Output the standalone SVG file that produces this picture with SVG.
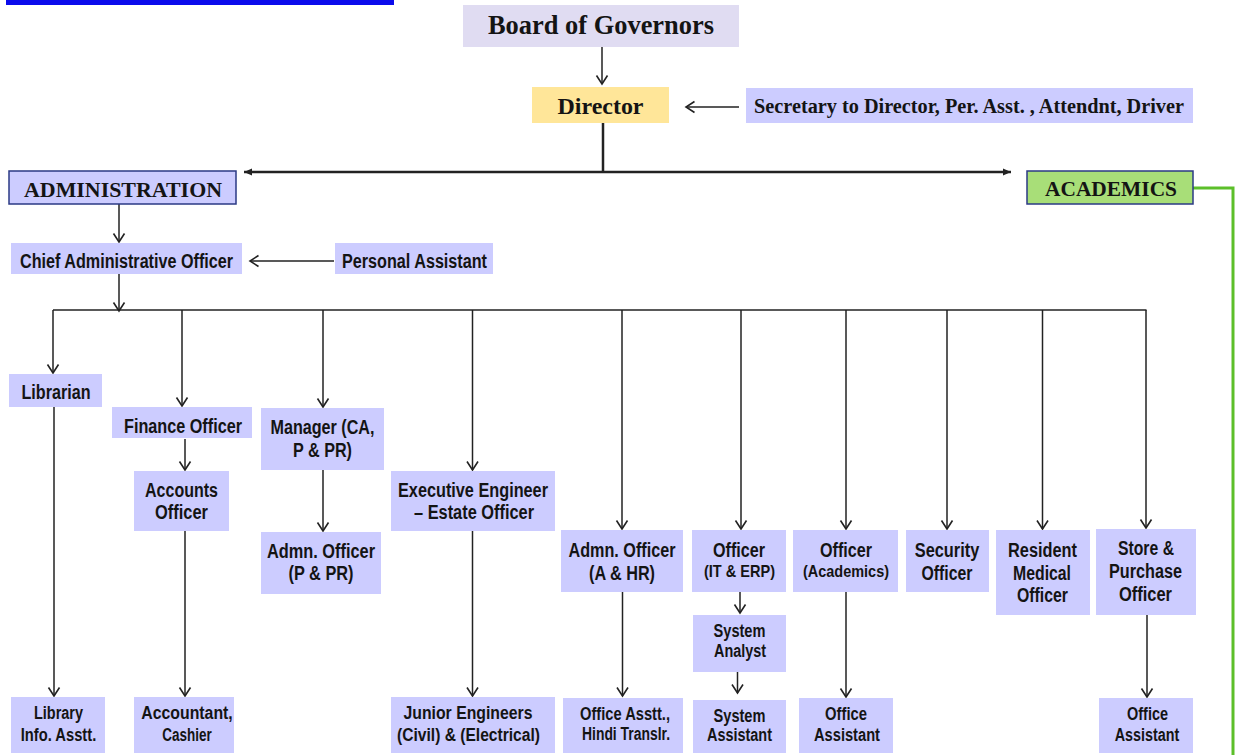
<svg xmlns="http://www.w3.org/2000/svg" width="1239" height="755" viewBox="0 0 1239 755">
<defs>
<style>
.bx{fill:#CCCCFF;}
.t{font-family:"Liberation Serif","Times New Roman",serif;font-weight:bold;fill:#141414;text-anchor:middle;}
.n{font-family:"Liberation Sans Narrow","Liberation Sans",Arial,sans-serif;font-weight:bold;fill:#141414;text-anchor:middle;font-size:20px;}
.s{font-size:18px;}
.xs{font-size:17px;}
.ln{stroke:#222;stroke-width:1.5;fill:none;}
.thk{stroke:#222;stroke-width:2.5;fill:none;}
.av{marker-end:url(#v);}
</style>
<marker id="v" markerUnits="userSpaceOnUse" markerWidth="12" markerHeight="14" refX="10" refY="6" orient="auto" overflow="visible">
<path d="M1.5,0.5 L10,6 L1.5,11.5" fill="none" stroke="#222" stroke-width="1.6"/>
</marker>
<marker id="f" markerUnits="userSpaceOnUse" markerWidth="10" markerHeight="8" refX="8" refY="3.5" orient="auto" overflow="visible">
<path d="M0,0 L8,3.5 L0,7 z" fill="#222"/>
</marker>
</defs>
<rect x="6" y="0" width="388" height="5" fill="#0b0bec"/>
<g id="connectors">
<line class="ln av" x1="602" y1="47" x2="602" y2="84"/>
<line class="ln av" x1="739" y1="107" x2="686" y2="107"/>
<line class="thk" x1="603" y1="123" x2="603" y2="172"/>
<line class="thk" x1="603" y1="172" x2="244" y2="172" marker-end="url(#f)"/>
<line class="thk" x1="603" y1="172" x2="1011" y2="172" marker-end="url(#f)"/>
<line class="ln av" x1="119" y1="204" x2="119" y2="242"/>
<line class="ln av" x1="334" y1="261" x2="250" y2="261"/>
<line class="ln av" x1="119" y1="274" x2="119" y2="311"/>
<line class="ln" x1="53" y1="310" x2="1146.5" y2="310"/>
<line class="ln av" x1="53" y1="310" x2="53" y2="373"/>
<line class="ln av" x1="182" y1="310" x2="182" y2="406"/>
<line class="ln av" x1="323" y1="310" x2="323" y2="407"/>
<line class="ln av" x1="472.5" y1="310" x2="472.5" y2="470"/>
<line class="ln av" x1="622" y1="310" x2="622" y2="529"/>
<line class="ln av" x1="741" y1="310" x2="741" y2="529"/>
<line class="ln av" x1="846" y1="310" x2="846" y2="529"/>
<line class="ln av" x1="947" y1="310" x2="947" y2="529"/>
<line class="ln av" x1="1042.5" y1="310" x2="1042.5" y2="529"/>
<line class="ln av" x1="1146" y1="310" x2="1146" y2="528"/>
<line class="ln av" x1="185" y1="439" x2="185" y2="470"/>
<line class="ln av" x1="323" y1="470" x2="323" y2="531"/>
<line class="ln av" x1="54" y1="407" x2="54" y2="696"/>
<line class="ln av" x1="185" y1="531" x2="185" y2="696"/>
<line class="ln av" x1="472.5" y1="531" x2="472.5" y2="696"/>
<line class="ln av" x1="622.5" y1="592" x2="622.5" y2="696"/>
<line class="ln av" x1="740" y1="592" x2="740" y2="613"/>
<line class="ln av" x1="737.5" y1="672" x2="737.5" y2="693"/>
<line class="ln av" x1="846" y1="592" x2="846" y2="697"/>
<line class="ln av" x1="1147" y1="615" x2="1147" y2="697"/>
<polyline points="1193,188 1233,188 1233,755" fill="none" stroke="#5CBF2A" stroke-width="3"/>
</g>
<g id="board"><rect x="463" y="5" width="276" height="42" fill="#E0DCF2"/><text class="t" x="601" y="34" font-size="27" textLength="226" lengthAdjust="spacingAndGlyphs">Board of Governors</text></g>
<g id="director"><rect x="532" y="87" width="137" height="36" fill="#FFE699"/><text class="t" x="600.5" y="114" font-size="24" textLength="86" lengthAdjust="spacingAndGlyphs">Director</text></g>
<g id="secretary"><rect class="bx" x="746" y="88" width="447" height="35"/><text class="t" x="969" y="113" font-size="20" textLength="430" lengthAdjust="spacingAndGlyphs">Secretary to Director, Per. Asst. ,  Attendnt, Driver</text></g>
<g id="administration"><rect class="bx" x="9" y="171" width="227" height="33" stroke="#2B3A85" stroke-width="1.5"/><text class="t" x="123" y="197" font-size="22" textLength="198" lengthAdjust="spacingAndGlyphs">ADMINISTRATION</text></g>
<g id="academics"><rect x="1027" y="171" width="166" height="33" fill="#A8DE78" stroke="#2B3A85" stroke-width="1.5"/><text class="t" x="1111" y="196" font-size="22" textLength="132" lengthAdjust="spacingAndGlyphs">ACADEMICS</text></g>
<g id="cao"><rect class="bx" x="11" y="243" width="231" height="31"/><text class="n" x="126.5" y="268" textLength="213" lengthAdjust="spacingAndGlyphs">Chief Administrative Officer</text></g>
<g id="pa"><rect class="bx" x="335" y="243" width="158" height="31"/><text class="n" x="414.5" y="268" textLength="145" lengthAdjust="spacingAndGlyphs">Personal Assistant</text></g>
<g id="librarian"><rect class="bx" x="9" y="374" width="93" height="33"/><text class="n" x="56" y="399" textLength="69" lengthAdjust="spacingAndGlyphs">Librarian</text></g>
<g id="finance"><rect class="bx" x="112" y="407" width="140" height="31"/><text class="n" x="183" y="433" textLength="118" lengthAdjust="spacingAndGlyphs">Finance Officer</text></g>
<g id="accounts"><rect class="bx" x="134" y="471" width="95" height="60"/><text class="n" x="181.5" y="497" textLength="73" lengthAdjust="spacingAndGlyphs">Accounts</text><text class="n" x="181.5" y="519" textLength="53" lengthAdjust="spacingAndGlyphs">Officer</text></g>
<g id="manager"><rect class="bx" x="261" y="408" width="123" height="62"/><text class="n" x="322.5" y="434" textLength="104" lengthAdjust="spacingAndGlyphs">Manager (CA,</text><text class="n" x="322.5" y="457" textLength="59" lengthAdjust="spacingAndGlyphs">P &amp; PR)</text></g>
<g id="admn-ppr"><rect class="bx" x="261" y="532" width="120" height="62"/><text class="n" x="321" y="558" textLength="108" lengthAdjust="spacingAndGlyphs">Admn. Officer</text><text class="n" x="321" y="580" textLength="65" lengthAdjust="spacingAndGlyphs">(P &amp; PR)</text></g>
<g id="exec-eng"><rect class="bx" x="391" y="471" width="164" height="60"/><text class="n" x="473" y="497" textLength="150" lengthAdjust="spacingAndGlyphs">Executive Engineer</text><text class="n" x="474" y="519" textLength="120" lengthAdjust="spacingAndGlyphs">– Estate Officer</text></g>
<g id="admn-ahr"><rect class="bx" x="561" y="530" width="122" height="62"/><text class="n" x="622" y="557" textLength="107" lengthAdjust="spacingAndGlyphs">Admn. Officer</text><text class="n" x="622" y="580" textLength="66" lengthAdjust="spacingAndGlyphs">(A &amp; HR)</text></g>
<g id="officer-it"><rect class="bx" x="692" y="530" width="94" height="62"/><text class="n" x="739" y="557" textLength="52" lengthAdjust="spacingAndGlyphs">Officer</text><text class="n xs" x="739.5" y="577" textLength="71" lengthAdjust="spacingAndGlyphs">(IT &amp; ERP)</text></g>
<g id="officer-acad"><rect class="bx" x="793" y="530" width="105" height="62"/><text class="n" x="846" y="557" textLength="52" lengthAdjust="spacingAndGlyphs">Officer</text><text class="n xs" x="846" y="577" textLength="86" lengthAdjust="spacingAndGlyphs">(Academics)</text></g>
<g id="security"><rect class="bx" x="906" y="530" width="83" height="62"/><text class="n" x="947" y="557" textLength="64.5" lengthAdjust="spacingAndGlyphs">Security</text><text class="n" x="947" y="580" textLength="51" lengthAdjust="spacingAndGlyphs">Officer</text></g>
<g id="medical"><rect class="bx" x="996" y="530" width="94" height="85"/><text class="n" x="1042.5" y="557" textLength="69" lengthAdjust="spacingAndGlyphs">Resident</text><text class="n" x="1042" y="580" textLength="58" lengthAdjust="spacingAndGlyphs">Medical</text><text class="n" x="1042.5" y="602" textLength="51" lengthAdjust="spacingAndGlyphs">Officer</text></g>
<g id="store"><rect class="bx" x="1096" y="529" width="100" height="86"/><text class="n" x="1146" y="555" textLength="56" lengthAdjust="spacingAndGlyphs">Store &amp;</text><text class="n" x="1145.5" y="578" textLength="73" lengthAdjust="spacingAndGlyphs">Purchase</text><text class="n" x="1145.5" y="601" textLength="53" lengthAdjust="spacingAndGlyphs">Officer</text></g>
<g id="sys-analyst"><rect class="bx" x="693" y="615" width="93" height="57"/><text class="n s" x="739.5" y="637" textLength="52" lengthAdjust="spacingAndGlyphs">System</text><text class="n s" x="740" y="657" textLength="52" lengthAdjust="spacingAndGlyphs">Analyst</text></g>
<g id="lib-info"><rect class="bx" x="11" y="697" width="94" height="56"/><text class="n s" x="58.5" y="719" textLength="49" lengthAdjust="spacingAndGlyphs">Library</text><text class="n s" x="58.5" y="741" textLength="75.5" lengthAdjust="spacingAndGlyphs">Info. Asstt.</text></g>
<g id="accountant"><rect class="bx" x="134" y="697" width="100" height="56"/><text class="n s" x="187" y="719" textLength="91.5" lengthAdjust="spacingAndGlyphs">Accountant,</text><text class="n s" x="187" y="741" textLength="49.5" lengthAdjust="spacingAndGlyphs">Cashier</text></g>
<g id="junior-eng"><rect class="bx" x="391" y="697" width="164" height="56"/><text class="n s" x="468" y="719" textLength="129" lengthAdjust="spacingAndGlyphs">Junior Engineers</text><text class="n s" x="468.5" y="741" textLength="143" lengthAdjust="spacingAndGlyphs">(Civil) &amp; (Electrical)</text></g>
<g id="office-asstt"><rect class="bx" x="563" y="698" width="120" height="55"/><text class="n s" x="625" y="720" textLength="90" lengthAdjust="spacingAndGlyphs">Office Asstt.,</text><text class="n s" x="626" y="740" textLength="88" lengthAdjust="spacingAndGlyphs">Hindi Translr.</text></g>
<g id="sys-assistant"><rect class="bx" x="693" y="700" width="93" height="53"/><text class="n s" x="739.5" y="722" textLength="52" lengthAdjust="spacingAndGlyphs">System</text><text class="n s" x="739.5" y="741" textLength="65" lengthAdjust="spacingAndGlyphs">Assistant</text></g>
<g id="office-asst-acad"><rect class="bx" x="799" y="698" width="94" height="55"/><text class="n s" x="846" y="720" textLength="42" lengthAdjust="spacingAndGlyphs">Office</text><text class="n s" x="847" y="741" textLength="66" lengthAdjust="spacingAndGlyphs">Assistant</text></g>
<g id="office-asst-store"><rect class="bx" x="1099" y="698" width="94" height="55"/><text class="n s" x="1147.5" y="720" textLength="41" lengthAdjust="spacingAndGlyphs">Office</text><text class="n s" x="1147" y="741" textLength="64.5" lengthAdjust="spacingAndGlyphs">Assistant</text></g>
</svg>
